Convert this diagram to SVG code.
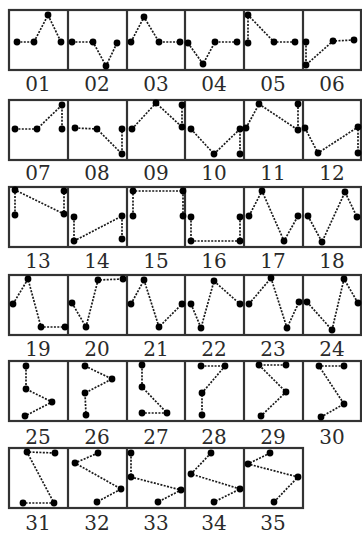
<svg xmlns="http://www.w3.org/2000/svg" width="362" height="534" viewBox="0 0 362 534">
<style>
.frame{fill:#fff;stroke:#333;stroke-width:2.2}
.c{fill:none;stroke:#1a1a1a;stroke-width:1.7;stroke-dasharray:2 1.4}
.d{fill:#000}
.lb{font-family:"DejaVu Serif","Liberation Serif",serif;font-size:20px;fill:#2a2a2a;text-anchor:middle}
</style>
<rect width="362" height="534" fill="#fff"/>
<g id="frames">
<rect class="frame" x="9" y="10" width="352" height="60"/>
<rect class="frame" x="9" y="100" width="352" height="60"/>
<rect class="frame" x="9" y="187" width="352" height="60"/>
<rect class="frame" x="9" y="275" width="352" height="60"/>
<rect class="frame" x="9" y="361" width="352" height="60"/>
<rect class="frame" x="9" y="448" width="294" height="60"/>
<path fill="none" stroke="#333" stroke-width="2.2" d="M68,10V70M127,10V70M185,10V70M244,10V70M303,10V70M68,100V160M127,100V160M185,100V160M244,100V160M303,100V160M68,187V247M127,187V247M185,187V247M244,187V247M303,187V247M68,275V335M127,275V335M185,275V335M244,275V335M303,275V335M68,361V421M127,361V421M185,361V421M244,361V421M303,361V421M68,448V508M127,448V508M185,448V508M244,448V508"/>
</g>
<g id="connectors">
<polyline class="c" points="17,42 34,42 48,15 61,42"/>
<polyline class="c" points="72,42 93,42 106,66 117,43"/>
<polyline class="c" points="131,42 144,17 159,42 180,42"/>
<polyline class="c" points="188,43 203,64 215,42 237,42"/>
<polyline class="c" points="248,43 248,15 274,42 295,42"/>
<polyline class="c" points="306,42 306,65 333,41 354,40"/>
<polyline class="c" points="15,129 37,129 62,105 62,129"/>
<polyline class="c" points="75,128 97,129 122,154 122,129"/>
<polyline class="c" points="132,129 156,103 182,127 182,105"/>
<polyline class="c" points="191,129 214,154 240,129 240,154"/>
<polyline class="c" points="246,128 259,104 298,130 298,104"/>
<polyline class="c" points="305,128 318,153 358,127 358,153"/>
<polyline class="c" points="15,215 15,190 64,214 64,191"/>
<polyline class="c" points="74,217 74,241 122,216 122,239"/>
<polyline class="c" points="133,216 133,191 183,191 183,216"/>
<polyline class="c" points="191,217 191,241 240,241 240,217"/>
<polyline class="c" points="249,216 262,191 284,241 298,216"/>
<polyline class="c" points="308,216 322,242 345,192 357,217"/>
<polyline class="c" points="13,304 28,279 41,327 65,327"/>
<polyline class="c" points="72,303 86,327 98,280 123,279"/>
<polyline class="c" points="131,304 144,280 159,327 182,304"/>
<polyline class="c" points="191,304 201,328 214,281 240,304"/>
<polyline class="c" points="249,304 271,278 287,328 299,302"/>
<polyline class="c" points="307,302 332,330 344,279 358,303"/>
<polyline class="c" points="26,366 26,389 52,402 25,416"/>
<polyline class="c" points="85,366 112,379 85,393 86,415"/>
<polyline class="c" points="142,365 142,387 167,413 142,413"/>
<polyline class="c" points="201,366 225,366 202,393 202,415"/>
<polyline class="c" points="286,365 259,365 286,392 261,416"/>
<polyline class="c" points="344,366 319,366 344,404 321,417"/>
<polyline class="c" points="55,453 27,452 54,503 23,503"/>
<polyline class="c" points="98,453 75,463 121,489 97,502"/>
<polyline class="c" points="131,453 131,477 181,490 158,502"/>
<polyline class="c" points="211,453 191,474 240,489 214,502"/>
<polyline class="c" points="270,453 248,464 298,477 274,502"/>
</g>
<g id="p01"><circle class="d" cx="17" cy="42" r="3.4"/><circle class="d" cx="34" cy="42" r="3.4"/><circle class="d" cx="48" cy="15" r="3.4"/><circle class="d" cx="61" cy="42" r="3.4"/><text class="lb" x="38" y="91">01</text></g>
<g id="p02"><circle class="d" cx="72" cy="42" r="3.4"/><circle class="d" cx="93" cy="42" r="3.4"/><circle class="d" cx="106" cy="66" r="3.4"/><circle class="d" cx="117" cy="43" r="3.4"/><text class="lb" x="97" y="91">02</text></g>
<g id="p03"><circle class="d" cx="131" cy="42" r="3.4"/><circle class="d" cx="144" cy="17" r="3.4"/><circle class="d" cx="159" cy="42" r="3.4"/><circle class="d" cx="180" cy="42" r="3.4"/><text class="lb" x="156" y="91">03</text></g>
<g id="p04"><circle class="d" cx="188" cy="43" r="3.4"/><circle class="d" cx="203" cy="64" r="3.4"/><circle class="d" cx="215" cy="42" r="3.4"/><circle class="d" cx="237" cy="42" r="3.4"/><text class="lb" x="214" y="91">04</text></g>
<g id="p05"><circle class="d" cx="248" cy="43" r="3.4"/><circle class="d" cx="248" cy="15" r="3.4"/><circle class="d" cx="274" cy="42" r="3.4"/><circle class="d" cx="295" cy="42" r="3.4"/><text class="lb" x="273" y="91">05</text></g>
<g id="p06"><circle class="d" cx="306" cy="42" r="3.4"/><circle class="d" cx="306" cy="65" r="3.4"/><circle class="d" cx="333" cy="41" r="3.4"/><circle class="d" cx="354" cy="40" r="3.4"/><text class="lb" x="332" y="91">06</text></g>
<g id="p07"><circle class="d" cx="15" cy="129" r="3.4"/><circle class="d" cx="37" cy="129" r="3.4"/><circle class="d" cx="62" cy="105" r="3.4"/><circle class="d" cx="62" cy="129" r="3.4"/><text class="lb" x="38" y="180">07</text></g>
<g id="p08"><circle class="d" cx="75" cy="128" r="3.4"/><circle class="d" cx="97" cy="129" r="3.4"/><circle class="d" cx="122" cy="154" r="3.4"/><circle class="d" cx="122" cy="129" r="3.4"/><text class="lb" x="97" y="180">08</text></g>
<g id="p09"><circle class="d" cx="132" cy="129" r="3.4"/><circle class="d" cx="156" cy="103" r="3.4"/><circle class="d" cx="182" cy="127" r="3.4"/><circle class="d" cx="182" cy="105" r="3.4"/><text class="lb" x="156" y="180">09</text></g>
<g id="p10"><circle class="d" cx="191" cy="129" r="3.4"/><circle class="d" cx="214" cy="154" r="3.4"/><circle class="d" cx="240" cy="129" r="3.4"/><circle class="d" cx="240" cy="154" r="3.4"/><text class="lb" x="214" y="180">10</text></g>
<g id="p11"><circle class="d" cx="246" cy="128" r="3.4"/><circle class="d" cx="259" cy="104" r="3.4"/><circle class="d" cx="298" cy="130" r="3.4"/><circle class="d" cx="298" cy="104" r="3.4"/><text class="lb" x="273" y="180">11</text></g>
<g id="p12"><circle class="d" cx="305" cy="128" r="3.4"/><circle class="d" cx="318" cy="153" r="3.4"/><circle class="d" cx="358" cy="127" r="3.4"/><circle class="d" cx="358" cy="153" r="3.4"/><text class="lb" x="332" y="180">12</text></g>
<g id="p13"><circle class="d" cx="15" cy="215" r="3.4"/><circle class="d" cx="15" cy="190" r="3.4"/><circle class="d" cx="64" cy="214" r="3.4"/><circle class="d" cx="64" cy="191" r="3.4"/><text class="lb" x="38" y="268">13</text></g>
<g id="p14"><circle class="d" cx="74" cy="217" r="3.4"/><circle class="d" cx="74" cy="241" r="3.4"/><circle class="d" cx="122" cy="216" r="3.4"/><circle class="d" cx="122" cy="239" r="3.4"/><text class="lb" x="97" y="268">14</text></g>
<g id="p15"><circle class="d" cx="133" cy="216" r="3.4"/><circle class="d" cx="133" cy="191" r="3.4"/><circle class="d" cx="183" cy="191" r="3.4"/><circle class="d" cx="183" cy="216" r="3.4"/><text class="lb" x="156" y="268">15</text></g>
<g id="p16"><circle class="d" cx="191" cy="217" r="3.4"/><circle class="d" cx="191" cy="241" r="3.4"/><circle class="d" cx="240" cy="241" r="3.4"/><circle class="d" cx="240" cy="217" r="3.4"/><text class="lb" x="214" y="268">16</text></g>
<g id="p17"><circle class="d" cx="249" cy="216" r="3.4"/><circle class="d" cx="262" cy="191" r="3.4"/><circle class="d" cx="284" cy="241" r="3.4"/><circle class="d" cx="298" cy="216" r="3.4"/><text class="lb" x="273" y="268">17</text></g>
<g id="p18"><circle class="d" cx="308" cy="216" r="3.4"/><circle class="d" cx="322" cy="242" r="3.4"/><circle class="d" cx="345" cy="192" r="3.4"/><circle class="d" cx="357" cy="217" r="3.4"/><text class="lb" x="332" y="268">18</text></g>
<g id="p19"><circle class="d" cx="13" cy="304" r="3.4"/><circle class="d" cx="28" cy="279" r="3.4"/><circle class="d" cx="41" cy="327" r="3.4"/><circle class="d" cx="65" cy="327" r="3.4"/><text class="lb" x="38" y="356">19</text></g>
<g id="p20"><circle class="d" cx="72" cy="303" r="3.4"/><circle class="d" cx="86" cy="327" r="3.4"/><circle class="d" cx="98" cy="280" r="3.4"/><circle class="d" cx="123" cy="279" r="3.4"/><text class="lb" x="97" y="356">20</text></g>
<g id="p21"><circle class="d" cx="131" cy="304" r="3.4"/><circle class="d" cx="144" cy="280" r="3.4"/><circle class="d" cx="159" cy="327" r="3.4"/><circle class="d" cx="182" cy="304" r="3.4"/><text class="lb" x="156" y="356">21</text></g>
<g id="p22"><circle class="d" cx="191" cy="304" r="3.4"/><circle class="d" cx="201" cy="328" r="3.4"/><circle class="d" cx="214" cy="281" r="3.4"/><circle class="d" cx="240" cy="304" r="3.4"/><text class="lb" x="214" y="356">22</text></g>
<g id="p23"><circle class="d" cx="249" cy="304" r="3.4"/><circle class="d" cx="271" cy="278" r="3.4"/><circle class="d" cx="287" cy="328" r="3.4"/><circle class="d" cx="299" cy="302" r="3.4"/><text class="lb" x="273" y="356">23</text></g>
<g id="p24"><circle class="d" cx="307" cy="302" r="3.4"/><circle class="d" cx="332" cy="330" r="3.4"/><circle class="d" cx="344" cy="279" r="3.4"/><circle class="d" cx="358" cy="303" r="3.4"/><text class="lb" x="332" y="356">24</text></g>
<g id="p25"><circle class="d" cx="26" cy="366" r="3.4"/><circle class="d" cx="26" cy="389" r="3.4"/><circle class="d" cx="52" cy="402" r="3.4"/><circle class="d" cx="25" cy="416" r="3.4"/><text class="lb" x="38" y="444">25</text></g>
<g id="p26"><circle class="d" cx="85" cy="366" r="3.4"/><circle class="d" cx="112" cy="379" r="3.4"/><circle class="d" cx="85" cy="393" r="3.4"/><circle class="d" cx="86" cy="415" r="3.4"/><text class="lb" x="97" y="444">26</text></g>
<g id="p27"><circle class="d" cx="142" cy="365" r="3.4"/><circle class="d" cx="142" cy="387" r="3.4"/><circle class="d" cx="167" cy="413" r="3.4"/><circle class="d" cx="142" cy="413" r="3.4"/><text class="lb" x="156" y="444">27</text></g>
<g id="p28"><circle class="d" cx="201" cy="366" r="3.4"/><circle class="d" cx="225" cy="366" r="3.4"/><circle class="d" cx="202" cy="393" r="3.4"/><circle class="d" cx="202" cy="415" r="3.4"/><text class="lb" x="214" y="444">28</text></g>
<g id="p29"><circle class="d" cx="286" cy="365" r="3.4"/><circle class="d" cx="259" cy="365" r="3.4"/><circle class="d" cx="286" cy="392" r="3.4"/><circle class="d" cx="261" cy="416" r="3.4"/><text class="lb" x="273" y="444">29</text></g>
<g id="p30"><circle class="d" cx="344" cy="366" r="3.4"/><circle class="d" cx="319" cy="366" r="3.4"/><circle class="d" cx="344" cy="404" r="3.4"/><circle class="d" cx="321" cy="417" r="3.4"/><text class="lb" x="332" y="444">30</text></g>
<g id="p31"><circle class="d" cx="55" cy="453" r="3.4"/><circle class="d" cx="27" cy="452" r="3.4"/><circle class="d" cx="54" cy="503" r="3.4"/><circle class="d" cx="23" cy="503" r="3.4"/><text class="lb" x="38" y="530">31</text></g>
<g id="p32"><circle class="d" cx="98" cy="453" r="3.4"/><circle class="d" cx="75" cy="463" r="3.4"/><circle class="d" cx="121" cy="489" r="3.4"/><circle class="d" cx="97" cy="502" r="3.4"/><text class="lb" x="97" y="530">32</text></g>
<g id="p33"><circle class="d" cx="131" cy="453" r="3.4"/><circle class="d" cx="131" cy="477" r="3.4"/><circle class="d" cx="181" cy="490" r="3.4"/><circle class="d" cx="158" cy="502" r="3.4"/><text class="lb" x="156" y="530">33</text></g>
<g id="p34"><circle class="d" cx="211" cy="453" r="3.4"/><circle class="d" cx="191" cy="474" r="3.4"/><circle class="d" cx="240" cy="489" r="3.4"/><circle class="d" cx="214" cy="502" r="3.4"/><text class="lb" x="214" y="530">34</text></g>
<g id="p35"><circle class="d" cx="270" cy="453" r="3.4"/><circle class="d" cx="248" cy="464" r="3.4"/><circle class="d" cx="298" cy="477" r="3.4"/><circle class="d" cx="274" cy="502" r="3.4"/><text class="lb" x="273" y="530">35</text></g>
</svg>
